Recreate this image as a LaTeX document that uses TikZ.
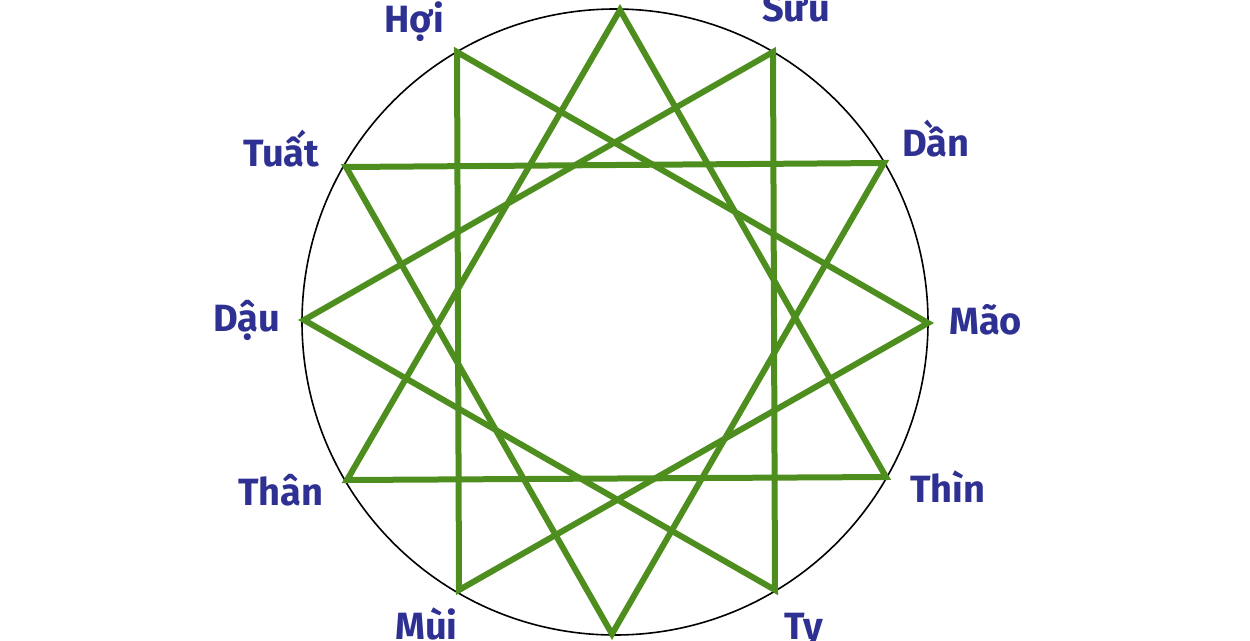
\documentclass[tikz,border=0pt]{standalone}
\usepackage{fontspec}
\setmainfont{Fira Sans}
\definecolor{starGreen}{RGB}{78,142,30}
\definecolor{labelBlue}{RGB}{46,49,146}
\begin{document}
\begin{tikzpicture}[x=1pt,y=-1pt,
  rim/.style={draw=black,line width=1.6pt},
  star/.style={draw=starGreen,line width=6pt,line join=miter},
  lbl/.style={text=labelBlue,font=\fontsize{38}{40}\selectfont\bfseries,anchor=base west,inner sep=0pt}]
\useasboundingbox (0,0) rectangle (1250,640);
\coordinate (ctr) at (615,322);
\draw[rim] (ctr) circle[radius=313];
% vertices
\coordinate (vTop) at (620,10);
\coordinate (vSuu) at (773,52);
\coordinate (vDan) at (884,163);
\coordinate (vMao) at (928,323);
\coordinate (vThin) at (886,477);
\coordinate (vTy) at (775,590);
\coordinate (vBot) at (612,634);
\coordinate (vMui) at (459,590);
\coordinate (vThan) at (347,480);
\coordinate (vDau) at (304,320);
\coordinate (vTuat) at (346,167);
\coordinate (vHoi) at (457,52);
% four triangles
\draw[star] (vTop) -- (vThin) -- (vThan) -- cycle;
\draw[star] (vSuu) -- (vTy) -- (vDau) -- cycle;
\draw[star] (vDan) -- (vBot) -- (vTuat) -- cycle;
\draw[star] (vHoi) -- (vMao) -- (vMui) -- cycle;
% labels
\node[lbl] (lHoi) at (384,32) {Hợi};
\node[lbl] (lSuu) at (762,21) {Sửu};
\node[lbl] (lDan) at (902,156) {Dần};
\node[lbl] (lTuat) at (243,166) {Tuất};
\node[lbl] (lMao) at (949,334) {Mão};
\node[lbl] (lDau) at (213,331) {Dậu};
\node[lbl] (lThan) at (238,505) {Thân};
\node[lbl] (lThin) at (910,502) {Thìn};
\node[lbl] (lMui) at (395,639) {Mùi};
\node[lbl] (lTy) at (784,639) {Tỵ};
\end{tikzpicture}
\end{document}
